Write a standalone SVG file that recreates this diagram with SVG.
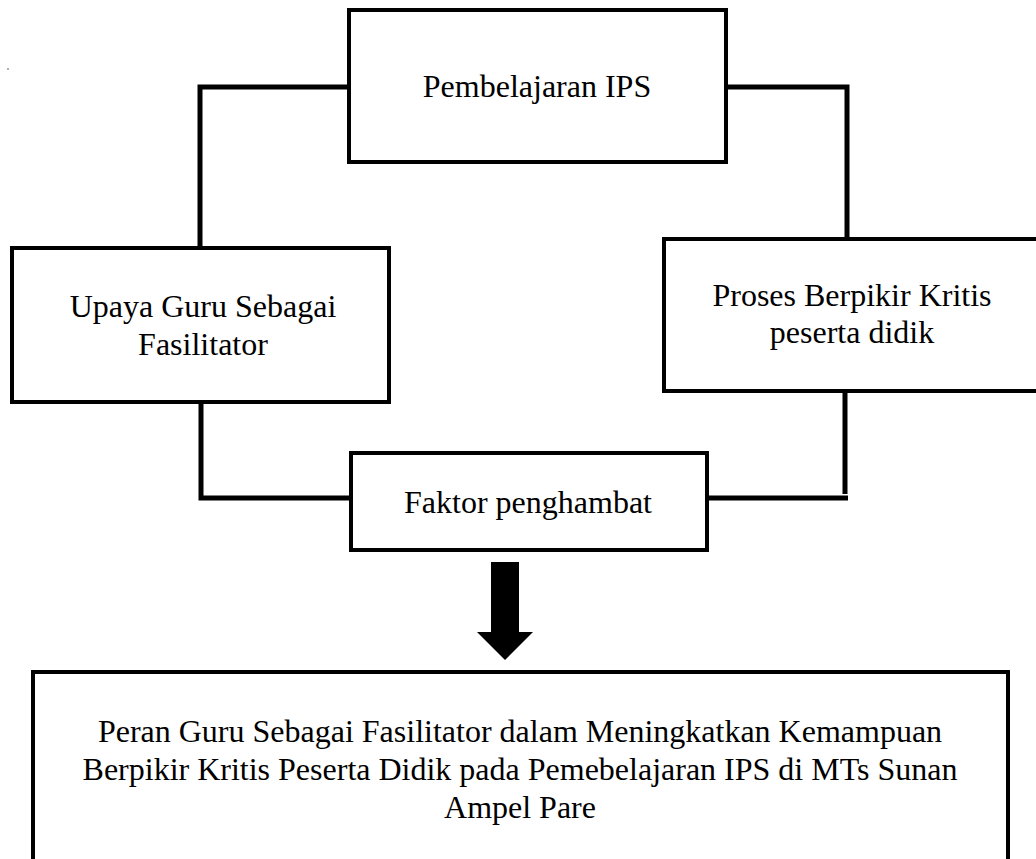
<svg xmlns="http://www.w3.org/2000/svg" width="1036" height="859" viewBox="0 0 1036 859">
  <style>
    .box { fill: #ffffff; stroke: #000000; stroke-width: 4; }
    .conn { fill: none; stroke: #000000; stroke-width: 5; stroke-linejoin: miter; }
    .lbl { font-family: "Liberation Serif", "Times New Roman", serif; font-size: 32px; fill: #000000; text-anchor: middle; }
  </style>
  <rect x="0" y="0" width="1036" height="859" fill="#ffffff"/>
  <rect x="7" y="68" width="2" height="2" fill="#b0b0b0"/>

  <g id="connectors">
    <polyline class="conn" points="349,87 200,87 200,248"/>
    <polyline class="conn" points="726,87 847,87 847,239"/>
    <polyline class="conn" points="201,402 201,498 351,498"/>
    <polyline class="conn" points="845,391 845,494"/>
    <line class="conn" x1="707" y1="498" x2="848" y2="498"/>
    <polygon id="arrow" points="491,562 519,562 519,632 533,632 505,660 477,632 491,632" fill="#000000"/>
  </g>

  <g id="node-pembelajaran">
    <rect class="box" x="349" y="10" width="377" height="152"/>
    <text class="lbl" x="537" y="97">Pembelajaran IPS</text>
  </g>

  <g id="node-upaya">
    <rect class="box" x="12" y="248" width="377" height="154"/>
    <text class="lbl" x="203" y="317">Upaya Guru Sebagai</text>
    <text class="lbl" x="203" y="355">Fasilitator</text>
  </g>

  <g id="node-proses">
    <rect class="box" x="664" y="239" width="380" height="152"/>
    <text class="lbl" x="852" y="306">Proses Berpikir Kritis</text>
    <text class="lbl" x="852" y="343">peserta didik</text>
  </g>

  <g id="node-faktor">
    <rect class="box" x="351" y="453" width="356" height="97"/>
    <text class="lbl" x="528" y="513">Faktor penghambat</text>
  </g>

  <g id="node-peran">
    <rect class="box" x="33" y="672" width="975" height="200"/>
    <text class="lbl" x="520" y="742">Peran Guru Sebagai Fasilitator dalam Meningkatkan Kemampuan</text>
    <text class="lbl" x="520" y="780">Berpikir Kritis Peserta Didik pada Pemebelajaran IPS di MTs Sunan</text>
    <text class="lbl" x="520" y="818">Ampel Pare</text>
  </g>
</svg>
